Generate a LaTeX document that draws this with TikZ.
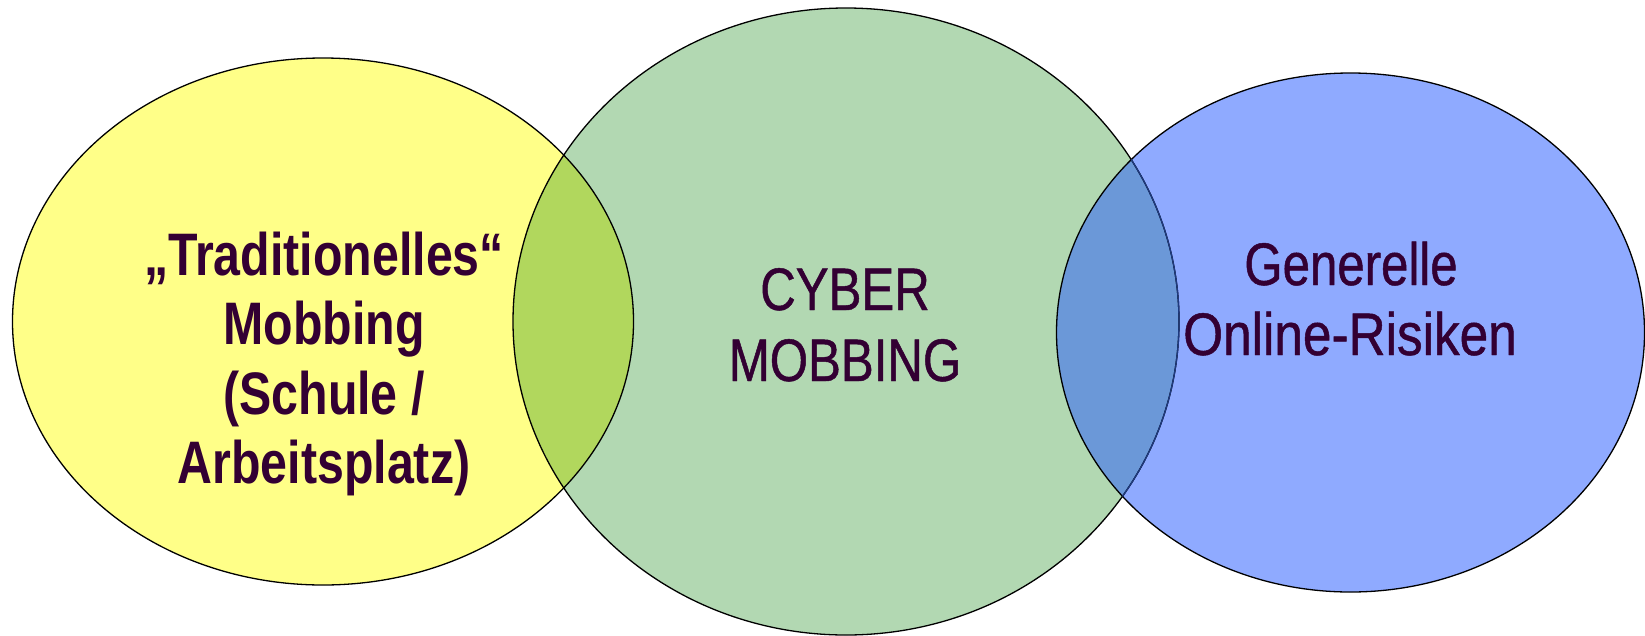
\documentclass[tikz,border=0pt]{standalone}
\usepackage{fontspec}
\newfontfamily\narrowreg[FakeStretch=0.82,FakeBold=0.8]{Liberation Sans}
\newfontfamily\narrowwide[FakeStretch=0.855,FakeBold=0.8]{Liberation Sans}
\newfontfamily\narrowbold[FakeStretch=0.805]{Liberation Sans Bold}
\definecolor{cyellow}{HTML}{FFFF88}
\definecolor{cgreen}{HTML}{B2D8B2}
\definecolor{cblue}{HTML}{8FAAFF}
\definecolor{cyg}{HTML}{B1D75D}
\definecolor{cgb}{HTML}{6B98D8}
\definecolor{ctext}{HTML}{330033}
\definecolor{cdarkblue}{HTML}{1E3A80}
\tikzset{
  lbl/.style={text=ctext, align=center, inner sep=0pt, anchor=base},
  rim/.style={draw=black, line width=1.3pt},
}
\begin{document}
\begin{tikzpicture}[x=1pt,y=-1pt]
\useasboundingbox (0,0) rectangle (1645,635);
\def\yellowE{(323,321.5) ellipse [x radius=310.5pt, y radius=263.5pt]}
\def\greenE{(846,321.5) ellipse [x radius=333pt, y radius=313.5pt]}
\def\blueE{(1350.5,332.5) ellipse [x radius=294pt, y radius=259.5pt]}
% fills
\fill[cyellow] \yellowE;
\fill[cgreen] \greenE;
\fill[cblue] \blueE;
\begin{scope}
  \clip \yellowE;
  \fill[cyg] \greenE;
\end{scope}
\begin{scope}
  \clip \blueE;
  \fill[cgb] \greenE;
\end{scope}
% outlines
\draw[rim] \yellowE;
\draw[rim] \greenE;
\draw[rim] \blueE;
\begin{scope}
  \clip \blueE;
  \draw[rim, draw=cdarkblue] \greenE;
\end{scope}
% labels
\node[lbl, font=\narrowbold\fontsize{60}{70}\selectfont] (t1) at (324,275) {„Traditionelles“};
\node[lbl, font=\narrowbold\fontsize{60}{70}\selectfont] (t2) at (324,344) {Mobbing};
\node[lbl, font=\narrowbold\fontsize{60}{70}\selectfont] (t3) at (324,414) {(Schule /};
\node[lbl, font=\narrowbold\fontsize{60}{70}\selectfont] (t4) at (324,483) {Arbeitsplatz)};
\node[lbl, font=\narrowreg\fontsize{60}{70}\selectfont] (c1) at (845,310) {CYBER};
\node[lbl, font=\narrowreg\fontsize{60}{70}\selectfont] (c2) at (845,381) {MOBBING};
\node[lbl, font=\narrowreg\fontsize{60}{70}\selectfont] (b1) at (1351,285) {Generelle};
\node[lbl, font=\narrowwide\fontsize{60}{70}\selectfont] (b2) at (1350,355) {Online-Risiken};
\end{tikzpicture}
\end{document}
